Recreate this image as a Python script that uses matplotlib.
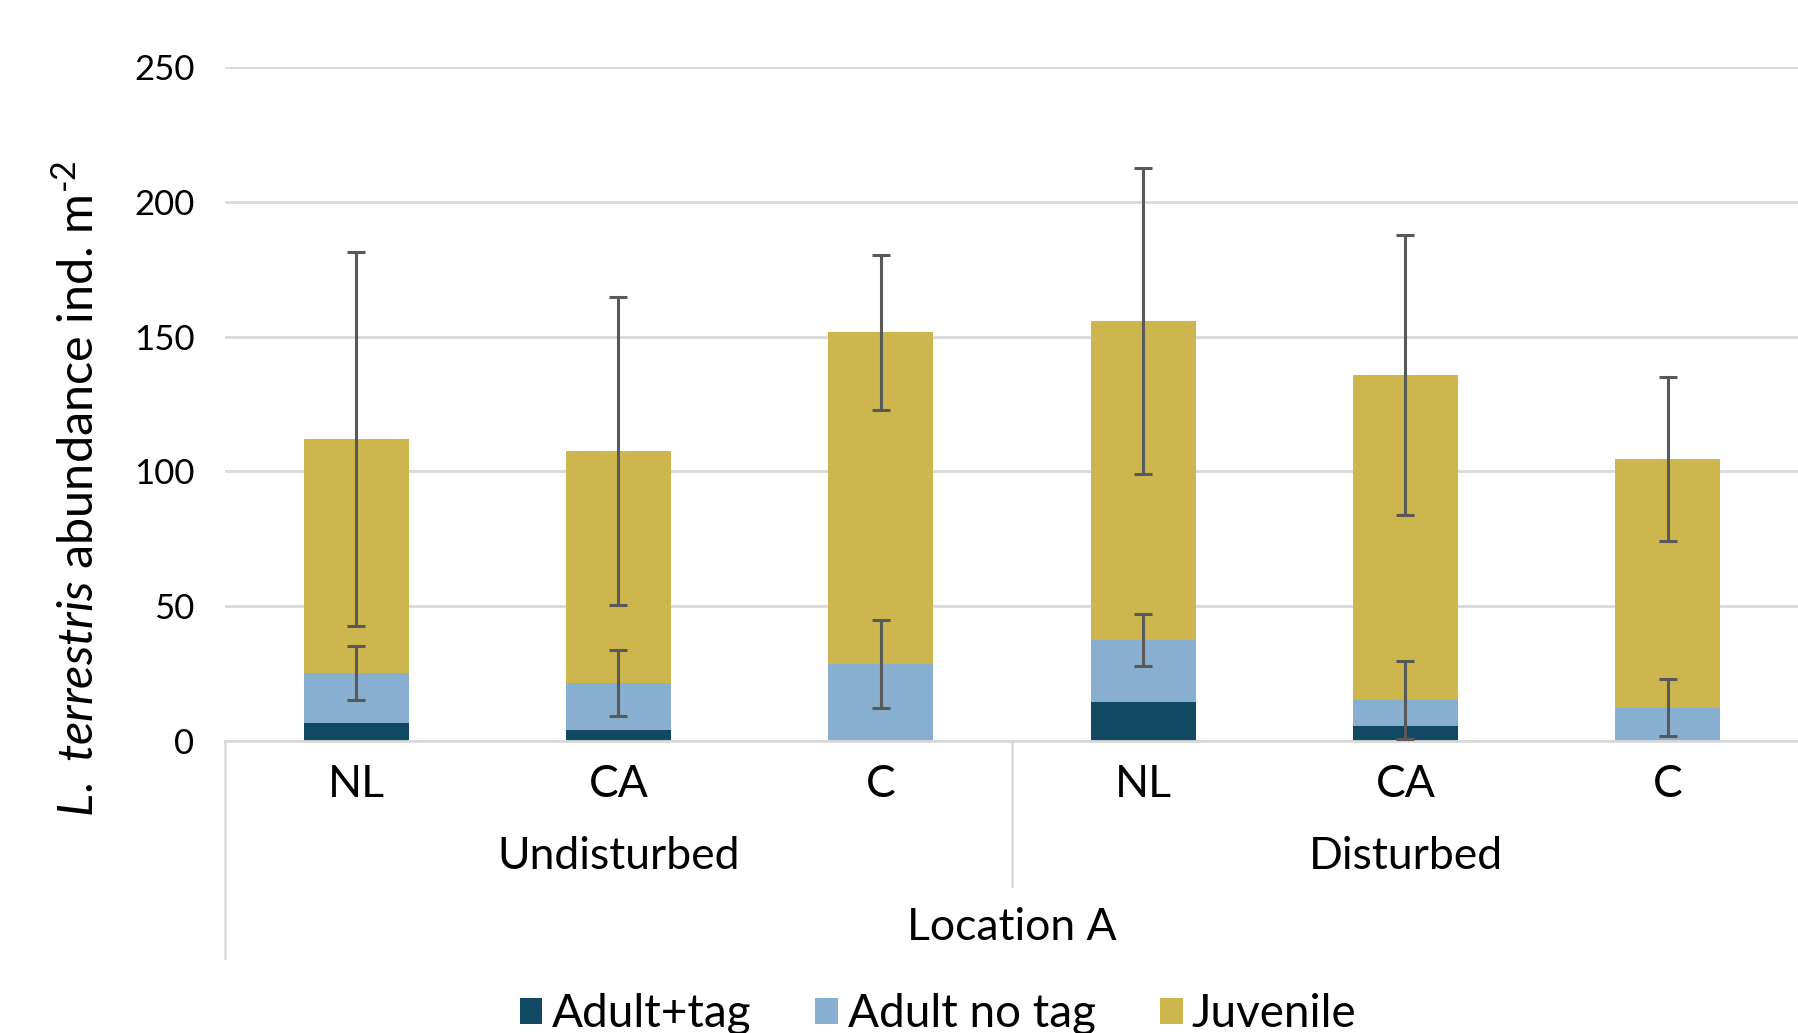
import matplotlib
matplotlib.use("Agg")
import matplotlib.pyplot as plt
import numpy as np

plt.rcParams['font.family'] = ['Lato', 'DejaVu Sans']
plt.rcParams['mathtext.fontset'] = 'custom'
plt.rcParams['mathtext.rm'] = 'Lato'
plt.rcParams['mathtext.it'] = 'Lato:italic'

# categories
sites = ["NL", "CA", "C", "NL", "CA", "C"]
groups = ["Undisturbed", "Disturbed"]
location = "Location A"

# stacked segment values (ind. m-2)
adult_tag = [6.6, 4.0, 0.0, 14.5, 5.6, 0.0]
adult_notag = [18.5, 17.4, 28.6, 23.0, 9.7, 12.4]
juvenile = [86.9, 86.2, 123.0, 118.3, 120.5, 92.1]

# error bars (placed at top of each segment)
err_notag = [10.0, 12.2, 16.4, 9.7, 14.4, 10.7]
err_juv = [69.3, 57.0, 28.7, 56.7, 51.8, 30.5]

yticks = [0, 50, 100, 150, 200, 250]

c_tag = "#114862"
c_notag = "#88afd0"
c_juv = "#cdb64e"
c_err = "#595959"
c_grid = "#d9d9d9"

fig = plt.figure(figsize=(17.99, 10.33), dpi=100)
ax = fig.add_axes([225 / 1799, 1 - 741 / 1033, 1 - 225 / 1799, (741 - 67) / 1033])

x = np.arange(len(sites))
w = 0.40
b1 = np.array(adult_tag)
b2 = b1 + np.array(adult_notag)
b3 = b2 + np.array(juvenile)

ax.bar(x, adult_tag, w, color=c_tag, label="Adult+tag", zorder=2)
ax.bar(x, adult_notag, w, bottom=b1, color=c_notag, label="Adult no tag", zorder=2)
ax.bar(x, juvenile, w, bottom=b2, color=c_juv, label="Juvenile", zorder=2)

ekw = dict(fmt="none", ecolor=c_err, elinewidth=2.2, capsize=6.5, capthick=2.2, zorder=3)
ax.errorbar(x, b2, yerr=err_notag, **ekw)
ax.errorbar(x, b3, yerr=err_juv, **ekw)

ax.set_xlim(-0.5, len(sites) - 0.5)
ax.set_ylim(0, 250)
ax.set_yticks(yticks)
ax.set_yticklabels([str(t) for t in yticks], fontsize=25)
ax.tick_params(axis="y", length=0, pad=22)
ax.set_xticks([])
ax.grid(axis="y", color=c_grid, linewidth=2.0, zorder=0)
ax.set_axisbelow(True)
for s in ["top", "right", "left"]:
    ax.spines[s].set_visible(False)
ax.spines["bottom"].set_color(c_grid)
ax.spines["bottom"].set_linewidth(2.0)

# multi-level category axis
tr = ax.get_xaxis_transform()
for i, s in enumerate(sites):
    ax.text(i, -0.064, s, transform=tr, ha="center", va="center", fontsize=32)
for j, g in enumerate(groups):
    ax.text(1 + 3 * j, -0.171, g, transform=tr, ha="center", va="center", fontsize=32)
ax.text(2.5, -0.277, location, transform=tr, ha="center", va="center", fontsize=32)
ax.plot([2.5, 2.5], [0, -0.215], transform=tr, color=c_grid, lw=1.8, clip_on=False)
ax.plot([-0.5, -0.5], [0, -0.322], transform=tr, color=c_grid, lw=1.8, clip_on=False)

fig.text(78 / 1799, 1 - 489 / 1033,
         r"$\mathit{L.\ terrestris}$ abundance ind. m$^{\text{-2}}$",
         rotation=90, ha="center", va="center", fontsize=35)

fig.legend(loc="center", bbox_to_anchor=(938 / 1799, 1 - 1014 / 1033), ncol=3,
           frameon=False, fontsize=33, handlelength=0.5, handleheight=0.5,
           handletextpad=0.2, columnspacing=1.4)

fig.savefig("out.png", dpi=100)
